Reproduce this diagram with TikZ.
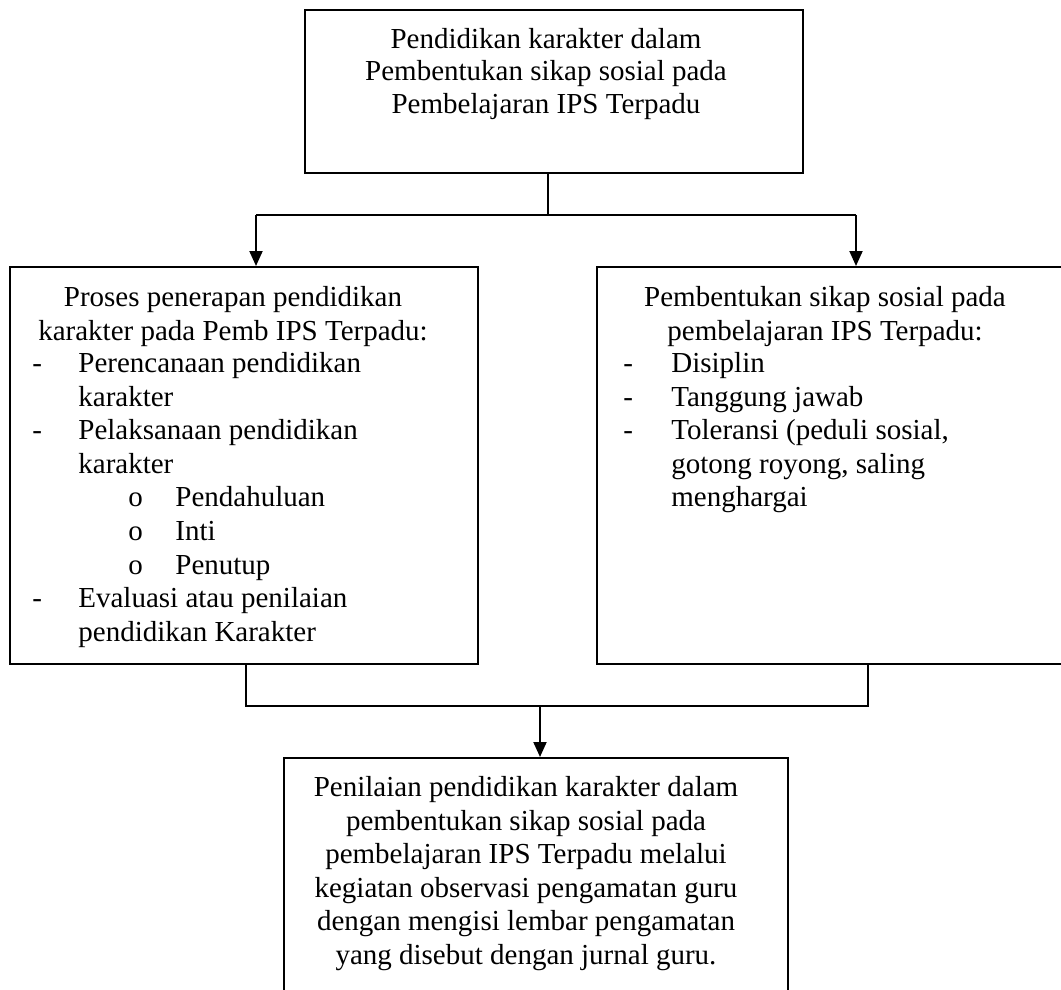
\documentclass[tikz,border=0pt]{standalone}
\usepackage{fontspec}
\setmainfont{Liberation Serif}
\usetikzlibrary{arrows.meta,positioning}
\tikzset{
    %Define standard arrow tip
    >={Triangle[length=7.5pt,width=6.5pt]},
    %Define style for boxes
    kotak/.style={
           rectangle,
           draw=black, line width=1pt,
           inner sep=0pt},
    %Define style for the text in the boxes
    isi/.style={
           inner sep=0pt,
           font=\fontsize{14.5}{16.8}\selectfont},
    % Define arrow style
    pil/.style={
           ->,
           line width=1pt},
    garis/.style={
           line width=1pt}
}

\begin{document}
\begin{tikzpicture}[x=0.5pt,y=-0.5pt]
\useasboundingbox (0,0) rectangle (1061,990);
\clip (0,0) rectangle (1061,990);
% boxes
\node[kotak, minimum width=249pt, minimum height=81.5pt](top) at (554,91.5){};
\node[kotak, minimum width=234pt, minimum height=198.5pt](proses) at (244,465.5){};
\node[kotak, minimum width=236.5pt, minimum height=198.5pt](sikap) at (833.5,465.5){};
\node[kotak, minimum width=252pt, minimum height=121pt](nilai) at (536,879){};
% texts
\node[isi, font=\fontsize{14.5}{16.2}\selectfont, align=center, anchor=north](toptxt) at (546,28){Pendidikan karakter dalam\\Pembentukan sikap sosial pada\\Pembelajaran IPS Terpadu};
\node[isi, align=center, anchor=north](prosesjudul) at (233,286){Proses penerapan pendidikan\\karakter pada Pemb IPS Terpadu:};
\node[isi, align=left, anchor=north west](prosesdaftar) at (32,352){%
\makebox[23pt][l]{-}Perencanaan pendidikan\\
\hspace*{23pt}karakter\\
\makebox[23pt][l]{-}Pelaksanaan pendidikan\\
\hspace*{23pt}karakter\\
\hspace*{48pt}\makebox[23.5pt][l]{o}Pendahuluan\\
\hspace*{48pt}\makebox[23.5pt][l]{o}Inti\\
\hspace*{48pt}\makebox[23.5pt][l]{o}Penutup\\
\makebox[23pt][l]{-}Evaluasi atau penilaian\\
\hspace*{23pt}pendidikan Karakter};
\node[isi, align=center, anchor=north](sikapjudul) at (825,286){Pembentukan sikap sosial pada\\pembelajaran IPS Terpadu:};
\node[isi, align=left, anchor=north west](sikapdaftar) at (623,352){%
\makebox[24pt][l]{-}Disiplin\\
\makebox[24pt][l]{-}Tanggung jawab\\
\makebox[24pt][l]{-}Toleransi (peduli sosial,\\
\hspace*{24pt}gotong royong, saling\\
\hspace*{24pt}menghargai};
\node[isi, align=center, anchor=north](nilaitxt) at (526,776){Penilaian pendidikan karakter dalam\\pembentukan sikap sosial pada\\pembelajaran IPS Terpadu melalui\\kegiatan observasi pengamatan guru\\dengan mengisi lembar pengamatan\\yang disebut dengan jurnal guru.};
% connectors
\coordinate (cabang) at (548,215);
\coordinate (kiri) at (256,215);
\coordinate (kanan) at (856,215);
\coordinate (kiri2) at (246,706);
\coordinate (kanan2) at (868,706);
\coordinate (tengah) at (540,706);
\draw[garis] (cabang |- top.south) -- (cabang);
\draw[garis] (kiri) -- (kanan);
\draw[pil] (kiri) -- (kiri |- proses.north);
\draw[pil] (kanan) -- (kanan |- sikap.north);
\draw[garis] (kiri2 |- proses.south) -- (kiri2) -- (kanan2) -- (kanan2 |- sikap.south);
\draw[pil] (tengah) -- (tengah |- nilai.north);
\end{tikzpicture}
\end{document}
